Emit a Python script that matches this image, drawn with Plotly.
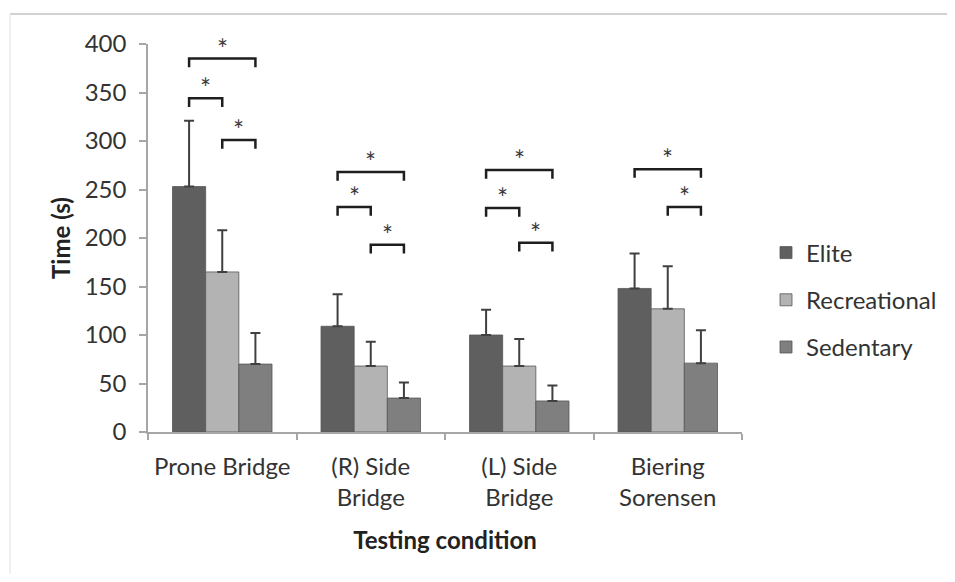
import plotly.graph_objects as go

# ---- data ----
categories = ["Prone Bridge", "(R) Side<br>Bridge", "(L) Side<br>Bridge", "Biering<br>Sorensen"]
groups = ["Elite", "Recreational", "Sedentary"]
elite_mean = [253, 109, 100, 148]
elite_sd = [68, 33, 26, 36]
recreational_mean = [165, 68, 68, 127]
recreational_sd = [43, 25, 28, 44]
sedentary_mean = [70, 35, 32, 71]
sedentary_sd = [32, 16, 16, 34]
y_ticks = [0, 50, 100, 150, 200, 250, 300, 350, 400]

# significance comparisons: (category index, group a, group b, bracket height in s)
comparisons = [
    (0, 0, 2, 385), (0, 0, 1, 344), (0, 1, 2, 301),
    (1, 0, 2, 268), (1, 0, 1, 232), (1, 1, 2, 193),
    (2, 0, 2, 270), (2, 0, 1, 231), (2, 1, 2, 195),
    (3, 0, 2, 271), (3, 1, 2, 232),
]

means = [elite_mean, recreational_mean, sedentary_mean]
sds = [elite_sd, recreational_sd, sedentary_sd]
colors = ["#5f5f5f", "#b3b3b3", "#7f7f7f"]

FONT = "Lato, Carlito, Calibri, sans-serif"
FS = 24
BARGAP = 0.33

# figure geometry (page body adds an 8px margin)
FW, FH = 947, 566
L, T, W, H = 140, 36, 594, 388

fig = go.Figure()
for g, name in enumerate(groups):
    fig.add_trace(go.Bar(
        x=categories, y=means[g], name=name,
        marker=dict(color=colors[g], line=dict(width=0.8, color="#555555")),
        error_y=dict(type="data", symmetric=False, array=sds[g],
                     arrayminus=[0] * len(sds[g]),
                     color="#404040", thickness=2, width=5),
        legendgroup=name,
    ))

# brackets
bar_w = (1 - BARGAP) / len(groups)
hook = 9
for cat, ga, gb, h in comparisons:
    xa = cat + (ga - 1) * bar_w
    xb = cat + (gb - 1) * bar_w
    fig.add_shape(type="path", xref="x", yref="y",
                  path=f"M {xa} {h - hook} L {xa} {h} L {xb} {h} L {xb} {h - hook}",
                  line=dict(color="#1e1e1e", width=2.5))
    fig.add_annotation(x=(xa + xb) / 2, y=h, xref="x", yref="y", text="*",
                       showarrow=False, yanchor="bottom", yshift=-8,
                       font=dict(family=FONT, size=26, color="#3a3a3a"))

# outer chart-area frame (partially visible)
def px(x):
    return (x - L) / W
def py(y):
    return (T + H - y) / H
fig.add_shape(type="line", xref="paper", yref="paper",
              x0=px(2), x1=px(FW + 10), y0=py(6), y1=py(6),
              line=dict(color="#d2d2d2", width=2))
fig.add_shape(type="line", xref="paper", yref="paper",
              x0=px(2), x1=px(2), y0=py(6), y1=py(FH + 10),
              line=dict(color="#ebebeb", width=1.5))

fig.update_layout(
    width=FW, height=FH,
    margin=dict(l=L, r=FW - L - W, t=T, b=FH - T - H, autoexpand=False),
    paper_bgcolor="white", plot_bgcolor="white",
    barmode="group", bargap=BARGAP, bargroupgap=0,
    font=dict(family=FONT, size=FS, color="#333333"),
    showlegend=True,
    legend=dict(x=px(758), y=py(292), xanchor="left", yanchor="middle",
                traceorder="grouped", tracegroupgap=13,
                font=dict(family=FONT, size=FS, color="#333333"),
                bgcolor="rgba(0,0,0,0)"),
    xaxis=dict(
        type="category", showline=True, linecolor="#a6a6a6", linewidth=1.5,
        ticks="outside", tickson="boundaries", ticklen=6, tickcolor="#a6a6a6",
        tickwidth=1.5, showgrid=False, zeroline=False, ticklabelstandoff=12,
        automargin=False, tickangle=0,
        tickfont=dict(family=FONT, size=FS, color="#333333"),
        title=dict(text="<b>Testing condition</b>", standoff=22,
                   font=dict(family=FONT, size=FS, color="#222222")),
    ),
    yaxis=dict(
        range=[0, 400], tickvals=y_ticks, showline=True, linecolor="#a6a6a6",
        linewidth=1.5, ticks="outside", ticklen=7, tickcolor="#a6a6a6",
        tickwidth=1.5, showgrid=False, zeroline=False, ticklabelstandoff=8,
        automargin=False,
        tickfont=dict(family=FONT, size=FS, color="#333333"),
        title=dict(text="<b>Time (s)</b>", standoff=7,
                   font=dict(family=FONT, size=FS, color="#222222")),
    ),
)

fig.write_html("out.html")
